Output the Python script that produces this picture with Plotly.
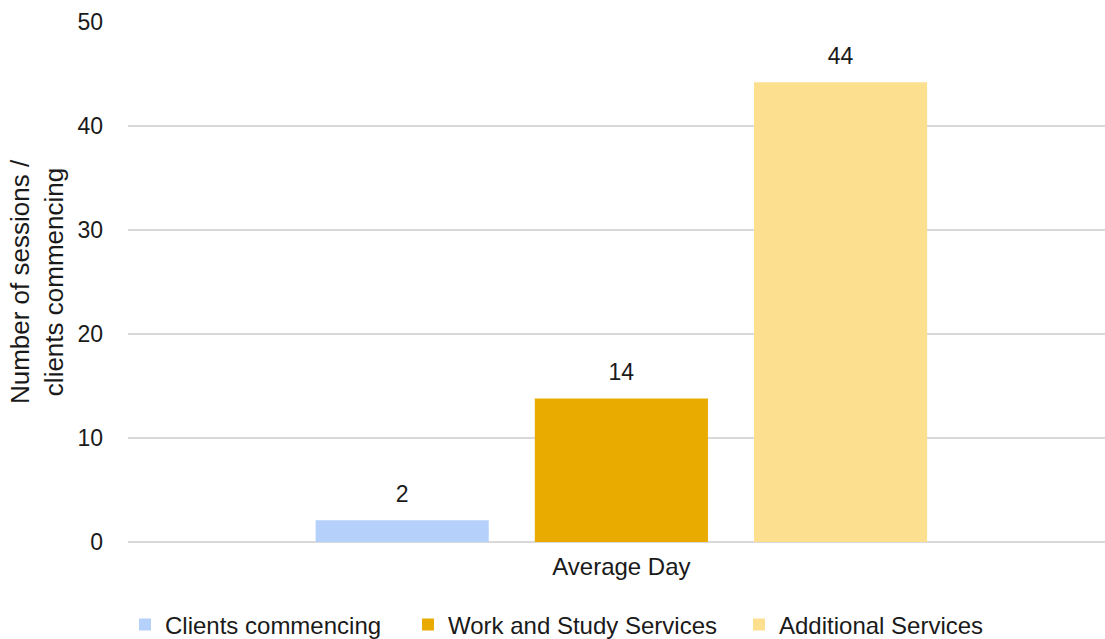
import plotly.graph_objects as go

categories = ["Average Day"]
series_names = ["Clients commencing", "Work and Study Services", "Additional Services"]
series_values = [[2.1], [13.8], [44.2]]
series_colors = ["#b5d0fb", "#e9ab00", "#fddf90"]
y_ticks = [0, 10, 20, 30, 40, 50]

FONT = "Liberation Sans, Arial, sans-serif"
TEXT = "#1a1a1a"
SIZE = 23
GAP = 0.327

# one legend box per series so each entry can be spaced on its own
legend_ids = ["legend", "legend2", "legend3"]
legend_left_px = [125, 408, 739]

fig = go.Figure()
for name, vals, color, lid in zip(series_names, series_values, series_colors, legend_ids):
    fig.add_trace(go.Bar(
        x=categories, y=vals, name=name, offsetgroup=name, legend=lid,
        marker=dict(color=color, line=dict(width=0)),
    ))
# value labels sitting above each bar
for name, vals in zip(series_names, series_values):
    fig.add_trace(go.Scatter(
        x=categories, y=vals, mode="markers+text", offsetgroup=name,
        marker=dict(size=18, color="rgba(0,0,0,0)"),
        text=[f"{v:.0f}" for v in vals], textposition="top center",
        textfont=dict(family=FONT, size=SIZE, color=TEXT),
        showlegend=False, hoverinfo="skip", cliponaxis=False,
    ))

legend_style = dict(orientation="h", xref="container", xanchor="left",
                    yref="container", y=0.022, yanchor="middle",
                    font=dict(family=FONT, size=24, color=TEXT),
                    itemwidth=30, bgcolor="rgba(0,0,0,0)")

fig.update_layout(
    width=1105, height=639,
    margin=dict(l=128, r=0, t=22, b=97, autoexpand=False),
    paper_bgcolor="white", plot_bgcolor="white",
    barmode="group", bargap=GAP, bargroupgap=0.21,
    scattermode="group", scattergap=GAP,
    font=dict(family=FONT, size=SIZE, color=TEXT),
    showlegend=True,
    xaxis=dict(range=[-0.505, 0.495], showgrid=False, showline=False,
               ticks="", ticklabelstandoff=8,
               tickfont=dict(family=FONT, size=24, color=TEXT)),
    yaxis=dict(range=[0, 50], tickvals=y_ticks, showgrid=True, gridcolor="#d9d9d9",
               gridwidth=1.5, zeroline=True, zerolinecolor="#d9d9d9", zerolinewidth=2,
               ticks="", ticklabelstandoff=24,
               tickfont=dict(family=FONT, size=SIZE, color=TEXT),
               title=dict(text="Number of sessions /<br>clients commencing",
                          font=dict(family=FONT, size=26, color=TEXT), standoff=6)),
)
for lid, left in zip(legend_ids, legend_left_px):
    fig.update_layout({lid: dict(legend_style, x=left / 1105)})

fig.write_html("out.html")
